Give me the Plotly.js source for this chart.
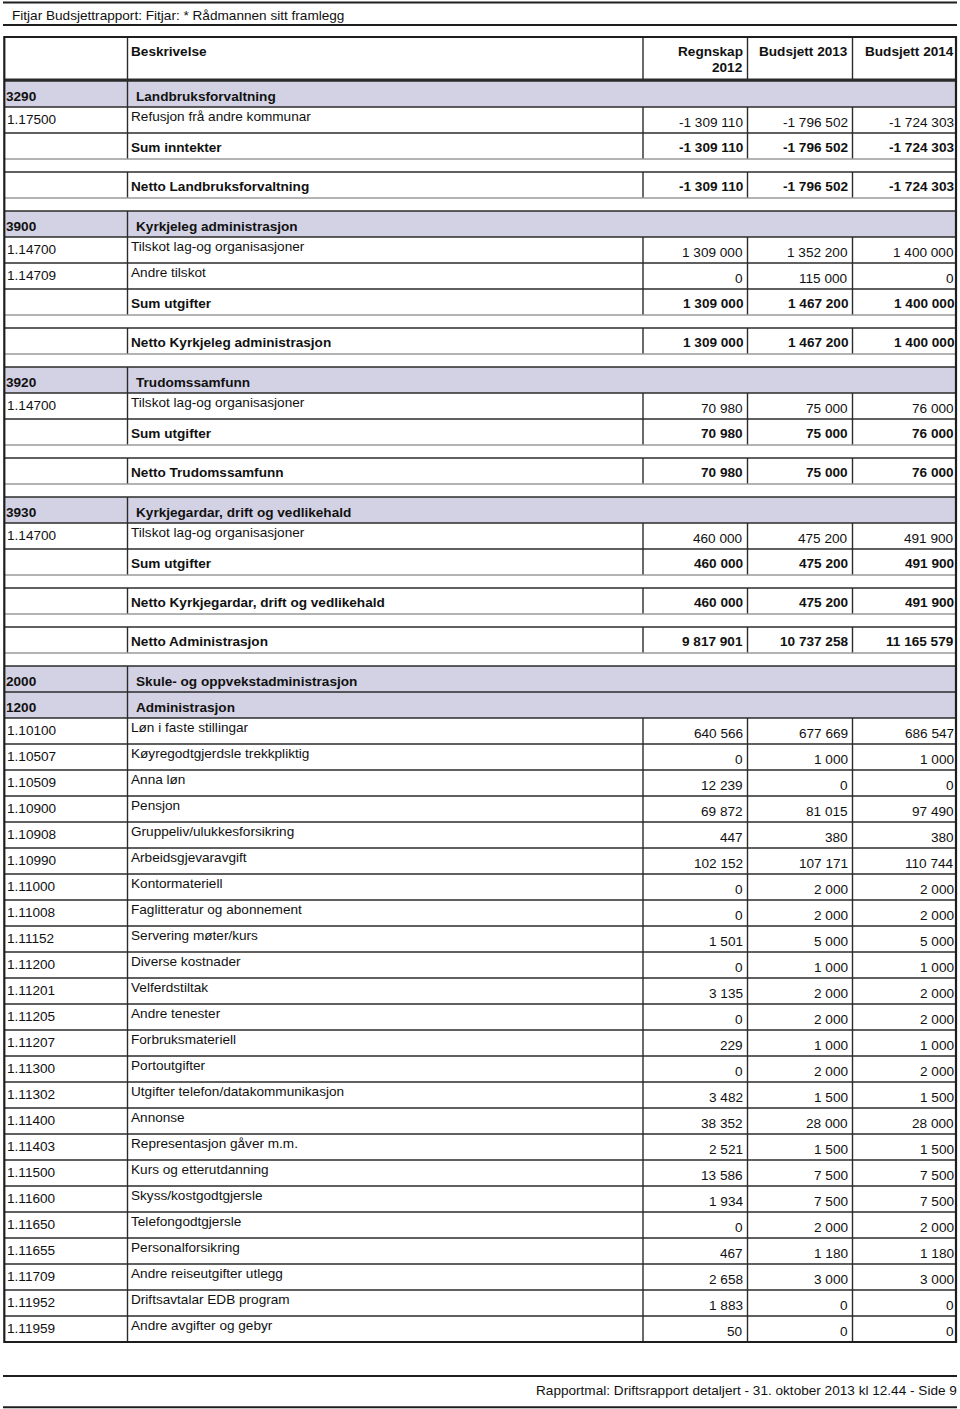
<!DOCTYPE html>
<html>
<head>
<meta charset="utf-8">
<script src="https://cdn.plot.ly/plotly-3.0.1.min.js"></script>
<style>html,body{margin:0;padding:0;background:#fff;}#chart{width:960px;height:1409px;}</style>
</head>
<body>
<div id="chart"></div>
<script>
// ---- data ----
const reportTitle = "Fitjar Budsjettrapport: Fitjar: * Rådmannen sitt framlegg";
const footerText = "Rapportmal: Driftsrapport detaljert - 31. oktober 2013 kl 12.44 - Side 9";
const headerLabels = ["Beskrivelse", "Regnskap<br>2012", "Budsjett 2013", "Budsjett 2014"];

const rowKinds = [
  "section","item","sum","blank","sum","blank",
  "section","item","item","sum","blank","sum","blank",
  "section","item","sum","blank","sum","blank",
  "section","item","sum","blank","sum","blank",
  "sum","blank",
  "section","section",
  "item","item","item","item","item","item","item","item","item","item","item","item",
  "item","item","item","item","item","item","item","item","item","item","item","item"
];
const rowCodes = [
  "3290","1.17500","","","","",
  "3900","1.14700","1.14709","","","","",
  "3920","1.14700","","","","",
  "3930","1.14700","","","","",
  "","",
  "2000","1200",
  "1.10100","1.10507","1.10509","1.10900","1.10908","1.10990","1.11000","1.11008","1.11152","1.11200","1.11201","1.11205",
  "1.11207","1.11300","1.11302","1.11400","1.11403","1.11500","1.11600","1.11650","1.11655","1.11709","1.11952","1.11959"
];
const rowDescriptions = [
  "Landbruksforvaltning","Refusjon frå andre kommunar","Sum inntekter","","Netto Landbruksforvaltning","",
  "Kyrkjeleg administrasjon","Tilskot lag-og organisasjoner","Andre tilskot","Sum utgifter","","Netto Kyrkjeleg administrasjon","",
  "Trudomssamfunn","Tilskot lag-og organisasjoner","Sum utgifter","","Netto Trudomssamfunn","",
  "Kyrkjegardar, drift og vedlikehald","Tilskot lag-og organisasjoner","Sum utgifter","","Netto Kyrkjegardar, drift og vedlikehald","",
  "Netto Administrasjon","",
  "Skule- og oppvekstadministrasjon","Administrasjon",
  "Løn i faste stillingar","Køyregodtgjerdsle trekkpliktig","Anna løn","Pensjon","Gruppeliv/ulukkesforsikring","Arbeidsgjevaravgift",
  "Kontormateriell","Faglitteratur og abonnement","Servering møter/kurs","Diverse kostnader","Velferdstiltak","Andre tenester",
  "Forbruksmateriell","Portoutgifter","Utgifter telefon/datakommunikasjon","Annonse","Representasjon gåver m.m.","Kurs og etterutdanning",
  "Skyss/kostgodtgjersle","Telefongodtgjersle","Personalforsikring","Andre reiseutgifter utlegg","Driftsavtalar EDB program","Andre avgifter og gebyr"
];
const regnskap2012 = [
  null,-1309110,-1309110,null,-1309110,null,
  null,1309000,0,1309000,null,1309000,null,
  null,70980,70980,null,70980,null,
  null,460000,460000,null,460000,null,
  9817901,null,
  null,null,
  640566,0,12239,69872,447,102152,0,0,1501,0,3135,0,
  229,0,3482,38352,2521,13586,1934,0,467,2658,1883,50
];
const budsjett2013 = [
  null,-1796502,-1796502,null,-1796502,null,
  null,1352200,115000,1467200,null,1467200,null,
  null,75000,75000,null,75000,null,
  null,475200,475200,null,475200,null,
  10737258,null,
  null,null,
  677669,1000,0,81015,380,107171,2000,2000,5000,1000,2000,2000,
  1000,2000,1500,28000,1500,7500,7500,2000,1180,3000,0,0
];
const budsjett2014 = [
  null,-1724303,-1724303,null,-1724303,null,
  null,1400000,0,1400000,null,1400000,null,
  null,76000,76000,null,76000,null,
  null,491900,491900,null,491900,null,
  11165579,null,
  null,null,
  686547,1000,0,97490,380,110744,2000,2000,5000,1000,2000,2000,
  1000,2000,1500,28000,1500,7500,7500,2000,1180,3000,0,0
];

// ---- layout constants ----
const W = 960, H = 1409;
const L = 4.3, R = 956;
const colDiv = [127.5, 643, 747.5, 852.5];
const valRight = [743, 848, 953.5];
const FONT = "Liberation Sans, Arial, Helvetica, sans-serif";
const FS = 13.6;
const lav = "rgb(211,210,228)";
const dark = "#2b2b2b";
const grey = "#9a9a9a";
const rowH = {section: 26, item: 26, sum: 26, blank: 13};
const tableTop = 37, headerBottom = 80.5, firstRow = 81;

function fmt(v) {
  const neg = v < 0;
  const s = Math.abs(v).toString().replace(/\B(?=(\d{3})+(?!\d))/g, " ");
  return (neg ? "-" : "") + s;
}

const tops = [];
let yy = firstRow;
rowKinds.forEach(k => { tops.push(yy); yy += rowH[k]; });
const tableBottom = yy;

const shapes = [];
const annotations = [];
function hline(x0, x1, y, color, w) {
  shapes.push({type: "line", xref: "x", yref: "y", x0: x0, x1: x1, y0: y, y1: y, line: {color: color, width: w}});
}
function vline(x, y0, y1, color, w) {
  shapes.push({type: "line", xref: "x", yref: "y", x0: x, x1: x, y0: y0, y1: y1, line: {color: color, width: w}});
}
// baseline -> annotation middle
function txt(text, x, baseline, anchor, bold) {
  annotations.push({
    text: bold ? "<b>" + text + "</b>" : text,
    x: x, y: baseline - 4.7, xref: "x", yref: "y",
    xanchor: anchor, yanchor: "middle", showarrow: false,
    borderpad: 0, borderwidth: 0,
    font: {family: FONT, size: FS, color: "#111"}
  });
}

// section fills
rowKinds.forEach((k, i) => {
  if (k === "section") {
    shapes.push({type: "rect", xref: "x", yref: "y", x0: L, x1: R, y0: tops[i], y1: tops[i] + rowH[k],
      fillcolor: lav, line: {width: 0}});
  }
});

// header dividers
colDiv.forEach(x => vline(x, tableTop, headerBottom, dark, 1.4));

// row lines and dividers
rowKinds.forEach((k, i) => {
  const t = tops[i], b = t + rowH[k];
  if (k === "blank") {
    hline(L, R, t, grey, 1.3);
  } else {
    hline(L, R, t, dark, 1.4);
    vline(colDiv[0], t, b, dark, 1.4);
    if (k !== "section") {
      for (let c = 1; c < colDiv.length; c++) vline(colDiv[c], t, b, dark, 1.4);
    }
  }
});

// header bottom & table border
hline(L, R, headerBottom - 0.8, dark, 2.5);
shapes.push({type: "rect", xref: "x", yref: "y", x0: L, x1: R, y0: tableTop, y1: tableBottom,
  line: {color: "#1e1e1e", width: 2.2}, fillcolor: "rgba(0,0,0,0)"});

// page lines
hline(3, 957, 2.5, "#1e1e1e", 2);
hline(3, 957, 25, "#1e1e1e", 2.2);
hline(3, 957, 1376, "#1e1e1e", 2);
hline(3, 957, 1407.3, "#1e1e1e", 2);

// title / footer
txt(reportTitle, 11.5, 20, "left", false);
txt(footerText, 956.5, 1395, "right", false);

// header text
txt(headerLabels[0], 131, 56, "left", true);
txt("Regnskap", valRight[0], 56, "right", true);
txt("2012", valRight[0], 72.5, "right", true);
txt(headerLabels[2], valRight[1], 56, "right", true);
txt(headerLabels[3], valRight[2], 56, "right", true);

// rows text
const series = [regnskap2012, budsjett2013, budsjett2014];
rowKinds.forEach((k, i) => {
  const t = tops[i];
  if (k === "section") {
    txt(rowCodes[i], 5.5, t + 20, "left", true);
    txt(rowDescriptions[i], 136, t + 20, "left", true);
  } else if (k === "item") {
    txt(rowCodes[i], 7.3, t + 17.5, "left", false);
    txt(rowDescriptions[i], 131, t + 14, "left", false);
    series.forEach((s, c) => txt(fmt(s[i]), valRight[c], t + 20, "right", false));
  } else if (k === "sum") {
    txt(rowDescriptions[i], 131, t + 19.3, "left", true);
    series.forEach((s, c) => txt(fmt(s[i]), valRight[c], t + 19.5, "right", true));
  }
});

const layout = {
  width: W, height: H,
  margin: {l: 0, r: 0, t: 0, b: 0, pad: 0},
  paper_bgcolor: "#fff", plot_bgcolor: "#fff",
  showlegend: false,
  xaxis: {range: [0, W], visible: false, showgrid: false, zeroline: false, fixedrange: true},
  yaxis: {range: [H, 0], visible: false, showgrid: false, zeroline: false, fixedrange: true},
  shapes: shapes,
  annotations: annotations
};
Plotly.newPlot("chart", [{type: "scatter", x: [], y: [], mode: "markers", hoverinfo: "skip"}], layout,
  {displayModeBar: false, staticPlot: true});
</script>
</body>
</html>
